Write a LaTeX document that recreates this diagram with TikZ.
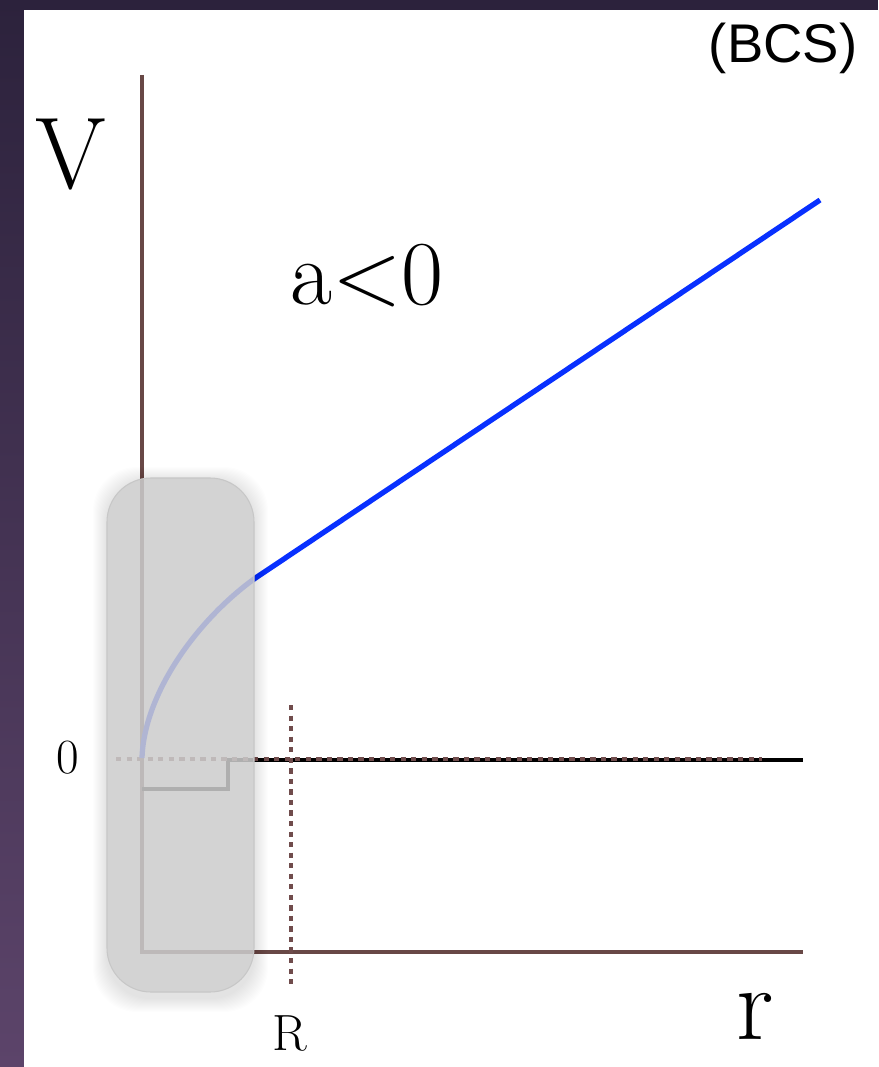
\documentclass[tikz,border=0pt]{standalone}
\usepackage{fontspec}
\newfontfamily\bcsfont{Liberation Sans}
\usepackage{xcolor}
\usepackage{tikz}
\usetikzlibrary{positioning,calc}
\definecolor{axisbrown}{RGB}{104,72,70}
\definecolor{dotbrown}{RGB}{112,76,76}
\definecolor{curveblue}{RGB}{8,48,255}
\definecolor{framedark}{RGB}{44,34,60}
\definecolor{framelight}{RGB}{92,68,106}
\definecolor{boxgray}{RGB}{204,204,204}
\tikzset{axisline/.style={draw=axisbrown, line width=2.6pt}, zeroline/.style={draw=black, line width=2.8pt}, dotline/.style={draw=dotbrown, line width=1.9pt, dash pattern=on 3pt off 3pt}, curve/.style={draw=curveblue, line width=3pt}, glass/.style={fill=boxgray, fill opacity=0.86, draw=black!22, line width=0.6pt, rounded corners=25pt}, lbl/.style={inner sep=0pt, text=black}}

\begin{document}
\begin{tikzpicture}[x=0.02cm, y=-0.02cm]
\useasboundingbox (0,0) rectangle (878,1067);
\fill[framedark] (0,0) rectangle (878,10);
\shade[top color=framedark, bottom color=framelight] (0,0) rectangle (24,1067);
\fill[white] (24,10) rectangle (878,1067);
\coordinate (yTop) at (142,75);
\coordinate (origin) at (142,952);
\coordinate (xEnd) at (803,952);
\coordinate (wellL) at (142,789);
\coordinate (wellR) at (228,789);
\coordinate (stepTop) at (228,760);
\coordinate (zeroEnd) at (803,760);
\coordinate (vStart) at (142,758);
\coordinate (bend) at (254,579);
\coordinate (vEnd) at (820,200);
\draw[axisline, line join=miter] (yTop) -- (origin) -- (xEnd);
\draw[zeroline] (wellL) -- (wellR) -- (stepTop) -- (zeroEnd);
\draw[dotline] (116,759) -- (762,759);
\draw[dotline] (291,705) -- (291,987);
\draw[curve] (vStart) .. controls (144,695) and (195,622) .. (bend) -- (vEnd);
\foreach \k in {1,...,14} {\fill[black, opacity=0.008, even odd rule, rounded corners=25pt] (107-\k,478-\k+3) rectangle (254+\k,992+\k+6) (107,478) rectangle (254,992);}
\filldraw[glass] (107,478) rectangle (254,992);
\node[lbl, font=\fontsize{58}{60}\selectfont] (lblV) at (71,155) {V};
\node[lbl, font=\fontsize{52}{56}\selectfont] (lblA) at (367,276) {a<0};
\node[lbl, font=\fontsize{28}{30}\selectfont] (lblZero) at (68,758) {0};
\node[lbl, font=\fontsize{29}{30}\selectfont] (lblR) at (290,1033) {R};
\node[lbl, font=\fontsize{60}{62}\selectfont] (lblr) at (755,1016) {r};
\node[lbl, font=\bcsfont\fontsize{31}{34}\selectfont] (lblBCS) at (783,48) {(BCS)};
\end{tikzpicture}
\end{document}
